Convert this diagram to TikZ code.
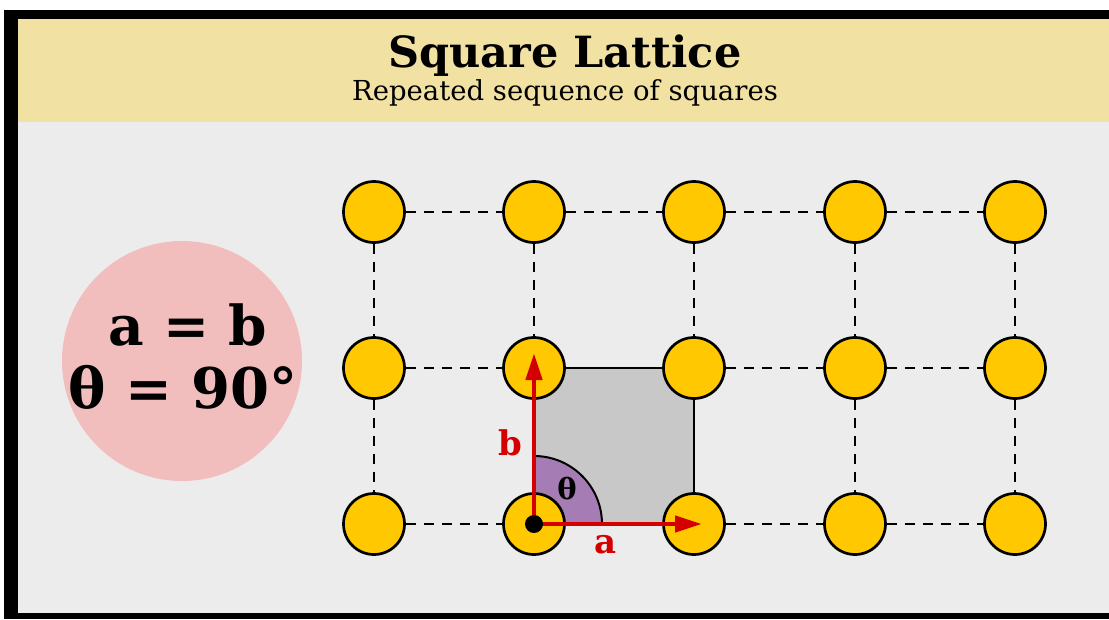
\documentclass[tikz,border=0pt]{standalone}
\usepackage{fontspec}
\setmainfont{DejaVu Serif}
\usepackage{xcolor}
\usetikzlibrary{arrows.meta,positioning}
\definecolor{headbg}{HTML}{F1E2A3}
\definecolor{panelbg}{HTML}{ECECEC}
\definecolor{siteyellow}{HTML}{FFC800}
\definecolor{cellgray}{HTML}{C8C8C8}
\definecolor{anglepurple}{HTML}{A67CB4}
\definecolor{vecred}{HTML}{D40000}
\definecolor{notepink}{HTML}{F2BDBD}

\begin{document}
\begin{tikzpicture}[x=1pt,y=-1pt,>={Triangle[length=27pt,width=16pt]},
  site/.style={circle,draw=black,line width=2.7pt,fill=siteyellow,minimum size=61pt,inner sep=0pt},
  bond/.style={dash pattern=on 10pt off 8pt,line width=1.6pt},
  vec/.style={->,draw=vecred,line width=4.6pt,shorten <=0pt},
  every node/.style={font=\fontsize{34}{40}\selectfont\bfseries}]
  \useasboundingbox (0,0) rectangle (1109,619);
  % frame and panels
  \fill[white] (0,0) rectangle (1109,619);
  \fill[black] (4,10) rectangle (1109,619);
  \fill[panelbg] (18,19) rectangle (1109,613);
  \fill[headbg] (18,19) rectangle (1109,122);
  \node (title) at (565,56) {\fontsize{43}{50}\selectfont Square Lattice};
  \node[font=\fontsize{27.5}{32}\selectfont] (sub) at (565,93) {Repeated sequence of squares};
  % note circle
  \fill[notepink] (182,361) circle (120);
  \node (eq1) at (188,325) {\fontsize{55}{62}\selectfont a = b};
  \node (eq2) at (183,387) {\fontsize{56}{62}\selectfont θ = 90°};
  % lattice sites
  \foreach \r/\y in {1/212,2/368,3/524}
    \foreach \c/\x in {1/374,2/534,3/694,4/855,5/1015}
      \coordinate (p-\r-\c) at (\x,\y);
  % unit cell and angle
  \filldraw[fill=cellgray,draw=black,line width=1.1pt] (p-2-2) rectangle (p-3-3);
  \filldraw[fill=anglepurple,draw=black,line width=2pt] (p-3-2) -- ++(68,0) arc[start angle=0,end angle=-90,radius=68] -- cycle;
  \foreach \r in {1,2,3}
    \foreach \c in {1,...,5}
      \node[site] (s-\r-\c) at (p-\r-\c) {};
  % bonds
  \foreach \r in {1,2,3}
    \foreach \c/\d in {1/2,3/4,4/5}
      \draw[bond] (s-\r-\c) -- (s-\r-\d);
  \foreach \r in {1,2}
    \draw[bond] (s-\r-2) -- (s-\r-3);
  \foreach \c in {1,...,5}
    \draw[bond] (s-1-\c) -- (s-2-\c);
  \foreach \c in {1,3,4,5}
    \draw[bond] (s-2-\c) -- (s-3-\c);
  % lattice vectors
  \coordinate (atip) at (702,524);
  \coordinate (btip) at (534,353);
  \draw[vec] (p-3-2) -- (atip);
  \draw[vec] (p-3-2) -- (btip);
  \fill[black] (p-3-2) circle (9);
  \node[text=vecred] (alab) at (606,545) {a};
  \node[text=vecred] (blab) at (510,443) {b};
  \node[font=\fontsize{29}{34}\selectfont\bfseries] (theta) at (567,489) {θ};
\end{tikzpicture}
\end{document}
